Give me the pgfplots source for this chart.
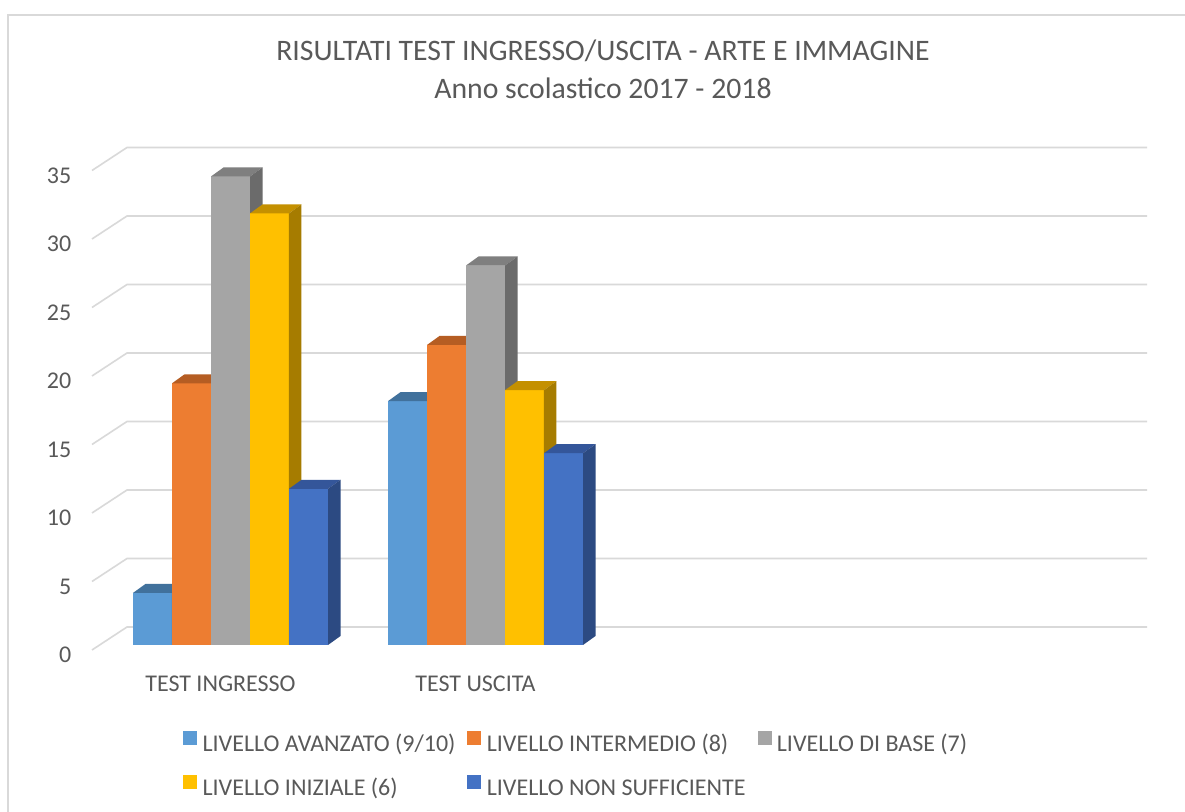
\documentclass[border=0pt]{standalone}
\usepackage{fontspec}
\setmainfont{Carlito}
\usepackage{pgfplots}
\usepackage{pgfplotstable}
\pgfplotsset{compat=1.18}

\definecolor{txt}{HTML}{595959}
\definecolor{gridc}{HTML}{D9D9D9}
\definecolor{bord}{HTML}{D9D9D9}
\definecolor{ca}{HTML}{5B9BD5}\definecolor{cat}{HTML}{41719C}\definecolor{cas}{HTML}{3A6791}
\definecolor{cb}{HTML}{ED7D31}\definecolor{cbt}{HTML}{B55D23}\definecolor{cbs}{HTML}{A0521E}
\definecolor{cc}{HTML}{A5A5A5}\definecolor{cct}{HTML}{7F7F7F}\definecolor{ccs}{HTML}{6B6B6B}
\definecolor{cd}{HTML}{FFC000}\definecolor{cdt}{HTML}{C49000}\definecolor{cds}{HTML}{A67C00}
\definecolor{ce}{HTML}{4472C4}\definecolor{cet}{HTML}{34569A}\definecolor{ces}{HTML}{2C4A82}

\pgfplotstableread{
x a b c d e
0 3.8 19.1 34.2 31.5 11.4
1 17.8 21.9 27.7 18.6 14.0
}\data

% front face of a 3D bar (mark placed at bar centre, bar top)
\pgfdeclareplotmark{capfront}{%
  \pgfmathsetlengthmacro\barh{\barval*10.275pt}%
  \pgfpathrectanglecorners{\pgfpoint{-14.625pt}{-\barh}}{\pgfqpoint{14.625pt}{0pt}}%
  \pgfusepathqfill}
% top cap
\pgfdeclareplotmark{captop}{%
  \pgfpathmoveto{\pgfqpoint{-14.625pt}{0pt}}%
  \pgfpathlineto{\pgfqpoint{14.625pt}{0pt}}%
  \pgfpathlineto{\pgfqpoint{24pt}{6.75pt}}%
  \pgfpathlineto{\pgfqpoint{-5.25pt}{6.75pt}}%
  \pgfpathclose
  \pgfusepathqfill}
% side face, height from the value
\pgfdeclareplotmark{capside}{%
  \pgfmathsetlengthmacro\barh{\barval*10.275pt}%
  \pgfpathmoveto{\pgfqpoint{14.625pt}{0pt}}%
  \pgfpathlineto{\pgfqpoint{24pt}{6.75pt}}%
  \pgfpathlineto{\pgfpoint{24pt}{6.75pt-\barh}}%
  \pgfpathlineto{\pgfpoint{14.625pt}{-\barh}}%
  \pgfpathclose
  \pgfusepathqfill}

\pgfplotsset{
  sq legend/.style={legend image code/.code={\fill[##1,draw=none] (0pt,0.55pt) rectangle (10.5pt,11.05pt);}},
  frontbar/.style={ybar, bar width=0.1529, bar shift=#1, draw=none, sq legend},
  face/.style n args={3}{forget plot, only marks, mark=#1, mark options={fill=#3, draw=none}, x filter/.expression={x+#2}, visualization depends on={rawy \as \barval}},
}

\begin{document}
\begin{tikzpicture}
\path[use as bounding box] (0,0) rectangle (888.75pt,609pt);
\fill[white] (0,0) rectangle (888.75pt,609pt);
\draw[bord, line width=1.1pt] (6pt,0pt) -- (6pt,597.75pt) -- (889pt,597.75pt);

\begin{axis}[
  at={(77.25pt,125.25pt)}, anchor=south west,
  x=191.25pt, y=10.275pt,
  xmin=-0.5, xmax=3.5, ymin=0, ymax=35,
  clip=false,
  axis line style={draw=none},
  major tick length=0pt,
  tick style={draw=none},
  xtick={0,1}, xticklabels={TEST INGRESSO, TEST USCITA},
  ytick={0,5,...,35},
  /pgf/number format/assume math mode=true,
  tick label style={font=\fontsize{18}{21.6}\selectfont, text=txt},
  xticklabel style={anchor=base, inner sep=0pt, xshift=-7.5pt, yshift=-35.25pt},
  yticklabel style={anchor=base east, inner sep=0pt, xshift=-23.6pt, yshift=-13.5pt},
  legend columns=3,
  legend cell align=left,
  legend style={draw=none, fill=none, at={(axis description cs:0.0784,-0.179)}, anchor=north west,
    inner sep=0pt, font=\fontsize{18}{21.6}\selectfont, text=txt,
    nodes={inner sep=0pt, text height=12pt, text depth=3.5pt},
    /tikz/every even column/.append style={column sep=9pt},
    /tikz/every odd column/.append style={column sep=4pt},
    row sep=14.5pt},
]
% back wall and side wall gridlines
\pgfplotsinvokeforeach{0,5,...,35}{
  \draw[gridc, line width=1.2pt]
    ([shift={(-8.25pt,-3.75pt)}]axis cs:-0.5,#1) --
    ([shift={(18pt,13.5pt)}]axis cs:-0.5,#1) --
    ([shift={(18pt,13.5pt)}]axis cs:3.5,#1);
}

\addplot[frontbar=-0.3059, fill=ca] table[x=x,y=a]{\data};
\addlegendentry{LIVELLO AVANZATO (9/10)}
\addplot[frontbar=-0.1529, fill=cb] table[x=x,y=b]{\data};
\addlegendentry{LIVELLO INTERMEDIO (8)}
\addplot[frontbar=0, fill=cc] table[x=x,y=c]{\data};
\addlegendentry{LIVELLO DI BASE (7)}
\addplot[frontbar=0.1529, fill=cd] table[x=x,y=d]{\data};
\addlegendentry{LIVELLO INIZIALE (6)}
\addplot[frontbar=0.3059, fill=ce] table[x=x,y=e]{\data};
\addlegendentry{LIVELLO NON SUFFICIENTE}

% 3D faces, drawn bar by bar from left to right
\addplot[face={capfront}{-0.3059}{ca}] table[x=x,y=a]{\data};
\addplot[face={captop}{-0.3059}{cat}] table[x=x,y=a]{\data};
\addplot[face={capside}{-0.3059}{cas}] table[x=x,y=a]{\data};

\addplot[face={capfront}{-0.1529}{cb}] table[x=x,y=b]{\data};
\addplot[face={captop}{-0.1529}{cbt}] table[x=x,y=b]{\data};
\addplot[face={capside}{-0.1529}{cbs}] table[x=x,y=b]{\data};

\addplot[face={capfront}{0}{cc}] table[x=x,y=c]{\data};
\addplot[face={captop}{0}{cct}] table[x=x,y=c]{\data};
\addplot[face={capside}{0}{ccs}] table[x=x,y=c]{\data};

\addplot[face={capfront}{0.1529}{cd}] table[x=x,y=d]{\data};
\addplot[face={captop}{0.1529}{cdt}] table[x=x,y=d]{\data};
\addplot[face={capside}{0.1529}{cds}] table[x=x,y=d]{\data};

\addplot[face={capfront}{0.3059}{ce}] table[x=x,y=e]{\data};
\addplot[face={captop}{0.3059}{cet}] table[x=x,y=e]{\data};
\addplot[face={capside}{0.3059}{ces}] table[x=x,y=e]{\data};
\end{axis}

\node[anchor=base, text=txt, font=\fontsize{22.3}{26}\selectfont, inner sep=0pt] at (452.25pt,563.25pt) {RISULTATI TEST INGRESSO/USCITA - ARTE E IMMAGINE};
\node[anchor=base, text=txt, font=\fontsize{22.3}{26}\selectfont, inner sep=0pt] at (452.25pt,534.75pt) {Anno scolastico 2017 - 2018};
\end{tikzpicture}
\end{document}
